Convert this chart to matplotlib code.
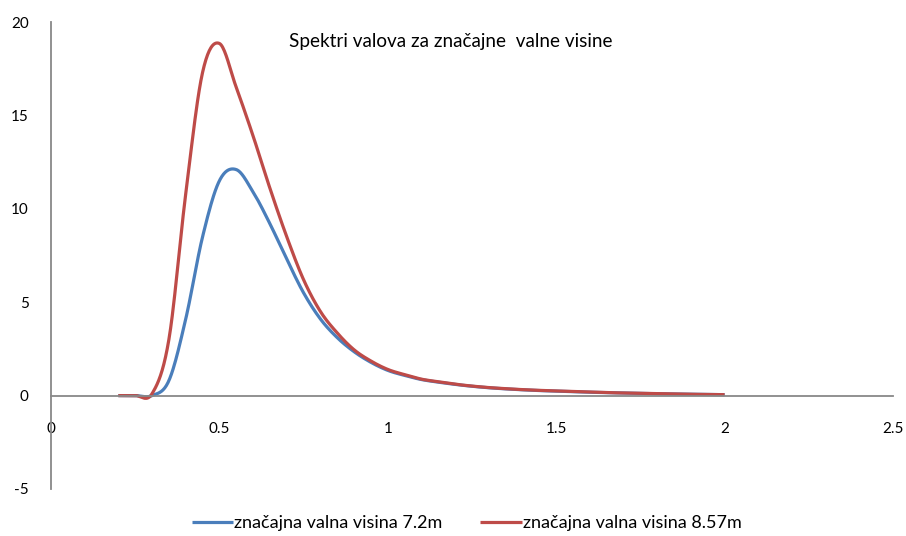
import numpy as np
import matplotlib
matplotlib.use("Agg")
import matplotlib.pyplot as plt

# ---- data ----
freq = [0.20, 0.25, 0.30, 0.35, 0.40, 0.45, 0.50, 0.55, 0.60, 0.65, 0.70,
        0.75, 0.80, 0.85, 0.90, 0.95, 1.00, 1.05, 1.10, 1.15, 1.20, 1.25,
        1.30, 1.35, 1.40, 1.45, 1.50, 1.55, 1.60, 1.65, 1.70, 1.75, 1.80,
        1.85, 1.90, 1.95, 2.00]
s_72 = [0.0, 0.0, 0.0, 0.8, 4.1, 8.5, 11.5, 12.1, 10.9, 9.2, 7.3,
        5.5, 4.1, 3.1, 2.35, 1.78, 1.35, 1.08, 0.86, 0.72, 0.6, 0.5,
        0.42, 0.36, 0.31, 0.27, 0.24, 0.21, 0.18, 0.16, 0.14, 0.12, 0.1,
        0.09, 0.07, 0.06, 0.05]
s_857 = [0.0, 0.0, 0.1, 3.0, 10.8, 17.3, 18.85, 16.5, 13.9, 11.1, 8.5,
         6.2, 4.5, 3.35, 2.45, 1.85, 1.4, 1.12, 0.88, 0.74, 0.61, 0.51,
         0.43, 0.37, 0.32, 0.28, 0.25, 0.22, 0.19, 0.16, 0.14, 0.12, 0.1,
         0.09, 0.07, 0.06, 0.05]
labels = ["značajna valna visina 7.2m", "značajna valna visina 8.57m"]
title = "Spektri valova za značajne  valne visine"
xticks = [0, 0.5, 1, 1.5, 2, 2.5]
xticklabels = ["0", "0.5", "1", "1.5", "2", "2.5"]
yticks = [-5, 0, 5, 10, 15, 20]
yticklabels = ["-5", "0", "5", "10", "15", "20"]


def smooth(x, y, n=20):
    """Catmull-Rom rendering, like a spreadsheet 'smoothed line'."""
    x = np.asarray(x, float)
    y = np.asarray(y, float)
    px = np.concatenate([[2 * x[0] - x[1]], x, [2 * x[-1] - x[-2]]])
    py = np.concatenate([[2 * y[0] - y[1]], y, [2 * y[-1] - y[-2]]])
    t = np.linspace(0, 1, n, endpoint=False)[:, None]
    xs, ys = [], []
    for i in range(1, len(px) - 2):
        p0, p1, p2, p3 = [np.array([px[j], py[j]]) for j in (i - 1, i, i + 1, i + 2)]
        c = 0.5 * ((2 * p1) + (-p0 + p2) * t + (2 * p0 - 5 * p1 + 4 * p2 - p3) * t ** 2
                   + (-p0 + 3 * p1 - 3 * p2 + p3) * t ** 3)
        xs.append(c[:, 0]); ys.append(c[:, 1])
    xs.append([x[-1]]); ys.append([y[-1]])
    return np.concatenate(xs), np.concatenate(ys)


plt.rcParams['font.family'] = ['Lato', 'DejaVu Sans']
plt.rcParams['axes.unicode_minus'] = False

fig = plt.figure(figsize=(9.06, 5.36), dpi=100)
ax = fig.add_axes([51 / 906, 47 / 536, (893 - 51) / 906, (489 - 22) / 536])

blue = "#4A7EBB"
red = "#BE4B48"
x1, y1 = smooth(freq, s_72)
x2, y2 = smooth(freq, s_857)
ax.plot(x1, y1, color=blue, lw=2.3, label=labels[0], solid_capstyle='butt')
ax.plot(x2, y2, color=red, lw=2.3, label=labels[1], solid_capstyle='butt')

ax.set_xlim(0, 2.5)
ax.set_ylim(-5, 20)
ax.spines['top'].set_visible(False)
ax.spines['right'].set_visible(False)
ax.spines['bottom'].set_position(('data', 0))
for s in ('left', 'bottom'):
    ax.spines[s].set_color('#888888')
    ax.spines[s].set_linewidth(1.3)

ax.set_xticks(xticks)
ax.set_xticklabels(xticklabels)
ax.set_yticks(yticks)
ax.set_yticklabels(yticklabels)
ax.tick_params(axis='both', length=0, labelsize=11, colors='black')
ax.tick_params(axis='x', pad=19)
ax.tick_params(axis='y', pad=16)

ax.text((451 - 51) / 842, 1 - (42 - 22) / 467, title, transform=ax.transAxes,
        ha='center', va='center', fontsize=13.6)

fig.legend(loc='center', bbox_to_anchor=(466.5 / 906, 1 - 523 / 536), ncol=2,
           frameon=False, fontsize=13, handlelength=2.3, handletextpad=0.05,
           columnspacing=2.1)

fig.savefig("out.png", dpi=100)
